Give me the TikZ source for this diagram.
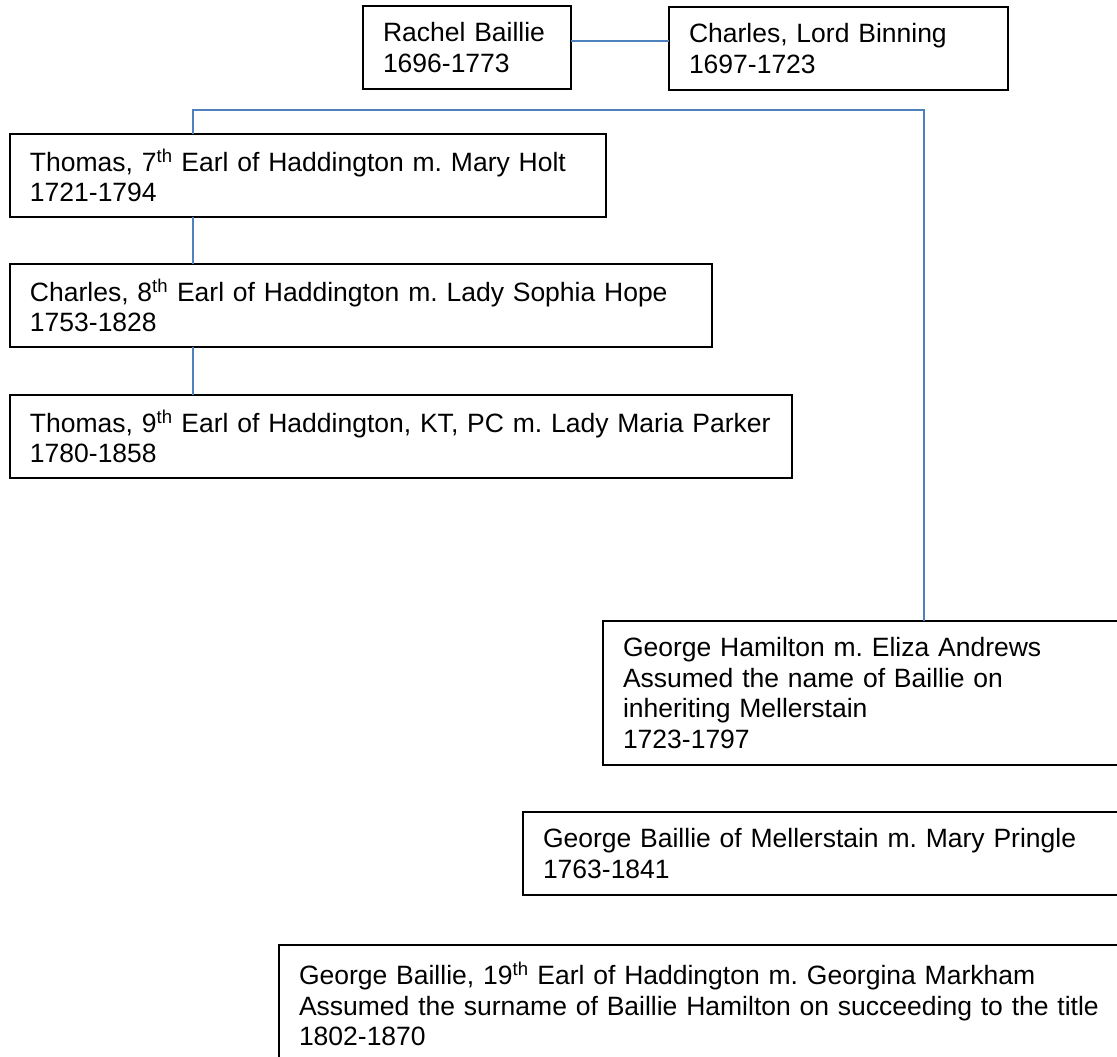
\documentclass[tikz,border=0pt]{standalone}
\usepackage{fontspec}
\setmainfont{Liberation Sans}
\usepackage{xcolor}
\usepackage{tikz}
\usetikzlibrary{positioning}
\frenchspacing
\definecolor{lineblue}{RGB}{79,129,189}
\tikzset{
  personbox/.style={rectangle,draw=black,line width=2pt,fill=white,anchor=north west,align=left,inner xsep=20pt,inner ysep=0pt,outer sep=0pt,minimum height=83pt,font=\fontsize{26.5}{30.5}\selectfont},
  famline/.style={draw=lineblue,line width=1.8pt}
}

\begin{document}
\begin{tikzpicture}[x=1pt,y=-1pt]
  \useasboundingbox (0,0) rectangle (1117,1057);
  \clip (0,0) rectangle (1117,1057);
  \node[personbox,text width=168pt] (rachel) at (363,6) {Rachel Baillie\\1696-1773};
  \node[personbox,text width=299pt] (binning) at (669,7) {Charles, Lord Binning\\1697-1723};
  \node[personbox,text width=556pt] (thomas7) at (10,134) {Thomas, 7\textsuperscript{th} Earl of Haddington m. Mary Holt\\1721-1794};
  \node[personbox,text width=662pt] (charles8) at (10,264) {Charles, 8\textsuperscript{th} Earl of Haddington m. Lady Sophia Hope\\1753-1828};
  \node[personbox,text width=742pt] (thomas9) at (10,395) {Thomas, 9\textsuperscript{th} Earl of Haddington, KT, PC m. Lady Maria Parker\\1780-1858};
  \node[personbox,text width=487pt,minimum height=144pt] (hamilton) at (603,621) {George Hamilton m. Eliza Andrews\\Assumed the name of Baillie on\\inheriting Mellerstain\\1723-1797};
  \node[personbox,text width=567pt] (mellerstain) at (523,812) {George Baillie of Mellerstain m. Mary Pringle\\1763-1841};
  \node[personbox,text width=811pt,minimum height=118pt] (earl19) at (279,945) {George Baillie, 19\textsuperscript{th} Earl of Haddington m. Georgina Markham\\Assumed the surname of Baillie Hamilton on succeeding to the title\\1802-1870};

  \coordinate (lft) at (193,110);
  \coordinate (rgt) at (924,110);

  \draw[famline] ([yshift=6.5pt]rachel.east) -- ([yshift=6.5pt]rachel.east -| binning.west);
  \draw[famline] (thomas7.north -| lft) -- (lft) -- (rgt) -- (hamilton.north -| rgt);
  \draw[famline] (thomas7.south -| lft) -- (charles8.north -| lft);
  \draw[famline] (charles8.south -| lft) -- (thomas9.north -| lft);
\end{tikzpicture}
\end{document}
